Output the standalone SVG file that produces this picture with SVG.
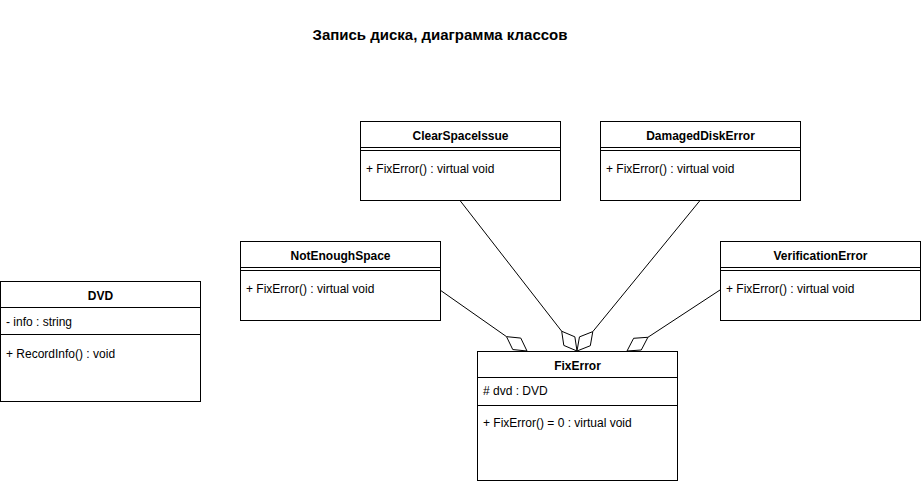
<svg xmlns="http://www.w3.org/2000/svg" width="921" height="482" viewBox="0 0 921 482">
<style>
.box{fill:#fff;stroke:#000;stroke-width:1}
.ln{stroke:#000;stroke-width:1;fill:none}
.hd{font-family:"Liberation Sans",Arial,sans-serif;font-size:12px;font-weight:bold;text-anchor:middle;fill:#000}
.mb{font-family:"Liberation Sans",Arial,sans-serif;font-size:12px;fill:#000}
.ttl{font-family:"Liberation Sans",Arial,sans-serif;font-size:15px;font-weight:bold;text-anchor:middle;fill:#000}
.dia{fill:#fff;stroke:#000;stroke-width:1}
</style>
<rect width="921" height="482" fill="#fff"/>
<text class="ttl" x="440" y="40">Запись диска, диаграмма классов</text>

<g id="connectors">
<line class="ln" x1="440" y1="290" x2="506.53" y2="336.65"/>
<polygon class="dia" points="527,351 512.75,349.55 506.53,336.65 520.79,338.09"/>
<line class="ln" x1="460" y1="200.5" x2="561.69" y2="331.24"/>
<polygon class="dia" points="577,351 563.81,345.41 561.69,331.24 574.87,336.83"/>
<line class="ln" x1="700" y1="200.5" x2="592.79" y2="331.62"/>
<polygon class="dia" points="577,351 590.32,345.73 592.79,331.62 579.46,336.89"/>
<line class="ln" x1="720" y1="290" x2="647.9" y2="337.29"/>
<polygon class="dia" points="627,351 641.29,349.99 647.9,337.29 633.61,338.29"/>
</g>

<g id="DVD">
<rect class="box" x="0.5" y="281.5" width="200" height="120"/>
<line class="ln" x1="0.5" y1="307.5" x2="200.5" y2="307.5"/>
<line class="ln" x1="0.5" y1="334.5" x2="200.5" y2="334.5"/>
<text class="hd" x="100.5" y="300">DVD</text>
<text class="mb" x="6" y="326">- info : string</text>
<text class="mb" x="6" y="358">+ RecordInfo() : void</text>
</g>

<g id="ClearSpaceIssue">
<rect class="box" x="360.5" y="121.5" width="200" height="79"/>
<line class="ln" x1="360.5" y1="147.5" x2="560.5" y2="147.5"/>
<line class="ln" x1="360.5" y1="150.5" x2="560.5" y2="150.5"/>
<text class="hd" x="460.5" y="140">ClearSpaceIssue</text>
<text class="mb" x="366" y="173">+ FixError() : virtual void</text>
</g>

<g id="DamagedDiskError">
<rect class="box" x="600.5" y="121.5" width="200" height="79"/>
<line class="ln" x1="600.5" y1="147.5" x2="800.5" y2="147.5"/>
<line class="ln" x1="600.5" y1="150.5" x2="800.5" y2="150.5"/>
<text class="hd" x="700.5" y="140">DamagedDiskError</text>
<text class="mb" x="606" y="173">+ FixError() : virtual void</text>
</g>

<g id="NotEnoughSpace">
<rect class="box" x="240.5" y="241.5" width="200" height="79"/>
<line class="ln" x1="240.5" y1="267.5" x2="440.5" y2="267.5"/>
<line class="ln" x1="240.5" y1="270.5" x2="440.5" y2="270.5"/>
<text class="hd" x="340.5" y="260">NotEnoughSpace</text>
<text class="mb" x="246" y="293">+ FixError() : virtual void</text>
</g>

<g id="VerificationError">
<rect class="box" x="720.5" y="241.5" width="200" height="79"/>
<line class="ln" x1="720.5" y1="267.5" x2="920.5" y2="267.5"/>
<line class="ln" x1="720.5" y1="270.5" x2="920.5" y2="270.5"/>
<text class="hd" x="820.5" y="260">VerificationError</text>
<text class="mb" x="726" y="293">+ FixError() : virtual void</text>
</g>

<g id="FixError">
<rect class="box" x="477.5" y="351.5" width="200" height="129"/>
<line class="ln" x1="477.5" y1="377.5" x2="677.5" y2="377.5"/>
<line class="ln" x1="477.5" y1="405.5" x2="677.5" y2="405.5"/>
<text class="hd" x="577.5" y="370">FixError</text>
<text class="mb" x="483" y="395"># dvd : DVD</text>
<text class="mb" x="483" y="427">+ FixError() = 0 : virtual void</text>
</g>
</svg>
